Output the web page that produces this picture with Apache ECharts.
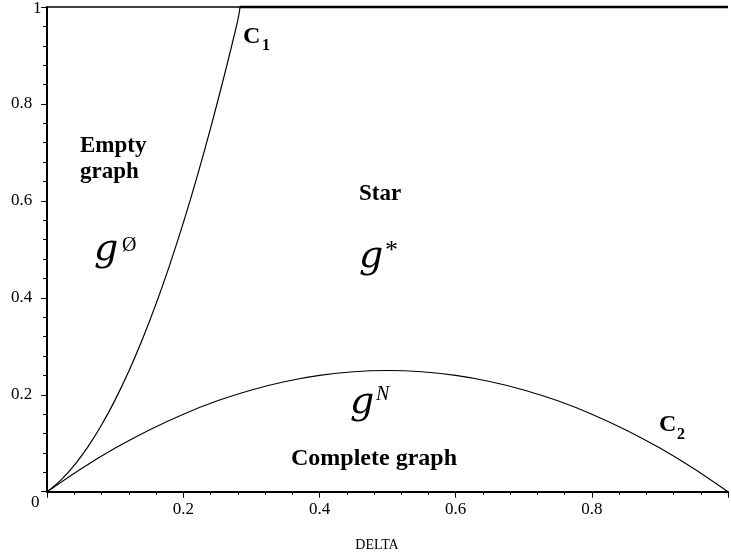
<!DOCTYPE html>
<html>
<head>
<meta charset="utf-8">
<script src="https://cdn.jsdelivr.net/npm/echarts@6/dist/echarts.min.js"></script>
<style>
html,body{margin:0;padding:0;background:#fff;}
#chart{width:731px;height:557px;}
</style>
</head>
<body>
<div id="chart"></div>
<script>
// DELTA values and cost curves
const c1Delta = [0, 0.02, 0.04, 0.06, 0.08, 0.10, 0.12, 0.14, 0.16, 0.18, 0.20, 0.22, 0.24, 0.26, 0.28, 0.2833, 1];
const c1Value = [0, 0.024, 0.055, 0.093, 0.138, 0.19, 0.249, 0.315, 0.388, 0.468, 0.555, 0.649, 0.75, 0.858, 0.973, 1, 1];
const c2Delta = [0, 0.05, 0.10, 0.15, 0.20, 0.25, 0.30, 0.35, 0.40, 0.45, 0.50, 0.55, 0.60, 0.65, 0.70, 0.75, 0.80, 0.85, 0.90, 0.95, 1];
const c2Value = [0, 0.0475, 0.09, 0.1275, 0.16, 0.1875, 0.21, 0.2275, 0.24, 0.2475, 0.25, 0.2475, 0.24, 0.2275, 0.21, 0.1875, 0.16, 0.1275, 0.09, 0.0475, 0];
const topDelta = [0, 1];
const topValue = [1, 1];
const xTicks = [0.2, 0.4, 0.6, 0.8];
const yTicks = [0.2, 0.4, 0.6, 0.8];

const zip = (a, b) => a.map((v, i) => [v, b[i]]);
const c1All = zip(c1Delta, c1Value);
const capIdx = c1Value.indexOf(1);
const c1Curve = c1All.slice(0, capIdx + 1);
const c1Cap = c1All.slice(capIdx);
const serif = "'Liberation Serif','DejaVu Serif',serif";
const gFont = "italic 38px 'DejaVu Serif',serif";

const chart = echarts.init(document.getElementById('chart'), null, {renderer: 'canvas'});
chart.setOption({
  backgroundColor: '#ffffff',
  animation: false,
  grid: {left: 47.2, top: 7, width: 686.6, height: 484.7, containLabel: false},
  xAxis: {
    type: 'value', min: 0, max: 1, interval: 0.2,
    axisLine: {show: true, onZero: false, lineStyle: {color: '#000', width: 2}},
    axisTick: {show: true, inside: false, length: 6, lineStyle: {color: '#000', width: 1}},
    minorTick: {show: true, splitNumber: 5, length: 3, lineStyle: {color: '#000', width: 1}},
    splitLine: {show: false},
    axisLabel: {
      color: '#000', fontFamily: serif, fontSize: 17, margin: 9,
      formatter: v => xTicks.some(t => Math.abs(t - v) < 1e-9) ? String(v) : ''
    }
  },
  yAxis: {
    type: 'value', min: 0, max: 1, interval: 0.2,
    axisLine: {show: true, onZero: false, lineStyle: {color: '#000', width: 2}},
    axisTick: {show: true, inside: false, length: 6, lineStyle: {color: '#000', width: 1}},
    minorTick: {show: true, splitNumber: 5, length: 4, lineStyle: {color: '#000', width: 1}},
    splitLine: {show: false},
    axisLabel: {
      color: '#000', fontFamily: serif, fontSize: 17, margin: 15,
      formatter: v => yTicks.some(t => Math.abs(t - v) < 1e-9) ? String(v) : ''
    }
  },
  series: [
    {type: 'line', name: 'top', data: zip(topDelta, topValue), symbol: 'none', clip: false,
     lineStyle: {color: '#000', width: 1.3}},
    {type: 'line', name: 'C1', data: c1Curve, symbol: 'none', clip: false, smooth: 0.3,
     lineStyle: {color: '#000', width: 1.2}},
    {type: 'line', name: 'C1 cap', data: c1Cap, symbol: 'none', clip: false,
     lineStyle: {color: '#000', width: 2.4}},
    {type: 'line', name: 'C2', data: zip(c2Delta, c2Value), symbol: 'none', clip: false, smooth: 0.3,
     lineStyle: {color: '#000', width: 1.1}}
  ],
  graphic: [
    {type: 'text', left: 31, top: 494, style: {text: '0', font: "17px " + serif, fill: '#000'}},
    {type: 'text', x: 33, y: 9, style: {text: '1', font: "17px " + serif, fill: '#000', verticalAlign: 'middle'}},
    {type: 'text', x: 377, y: 545, style: {text: 'DELTA', font: "14px " + serif, fill: '#000', align: 'center', verticalAlign: 'middle'}},
    {type: 'text', x: 243, y: 37, style: {text: 'C', font: "bold 24px " + serif, fill: '#000', verticalAlign: 'middle'}},
    {type: 'text', x: 262, y: 46, style: {text: '1', font: "bold 16px " + serif, fill: '#000', verticalAlign: 'middle'}},
    {type: 'text', x: 659, y: 425, style: {text: 'C', font: "bold 24px " + serif, fill: '#000', verticalAlign: 'middle'}},
    {type: 'text', x: 677, y: 435, style: {text: '2', font: "bold 16px " + serif, fill: '#000', verticalAlign: 'middle'}},
    {type: 'text', x: 80, y: 146, style: {text: 'Empty', font: "bold 23px " + serif, fill: '#000', verticalAlign: 'middle'}},
    {type: 'text', x: 80, y: 172, style: {text: 'graph', font: "bold 23px " + serif, fill: '#000', verticalAlign: 'middle'}},
    {type: 'text', x: 359, y: 194, style: {text: 'Star', font: "bold 23px " + serif, fill: '#000', verticalAlign: 'middle'}},
    {type: 'text', x: 291, y: 459, style: {text: 'Complete graph', font: "bold 24px " + serif, fill: '#000', verticalAlign: 'middle'}},
    {type: 'text', x: 94, y: 250, style: {text: 'g', font: gFont, fill: '#000', verticalAlign: 'middle'}},
    {type: 'text', x: 122, y: 246, style: {text: '\u00D8', font: "20px " + serif, fill: '#000', verticalAlign: 'middle'}},
    {type: 'text', x: 359, y: 257, style: {text: 'g', font: gFont, fill: '#000', verticalAlign: 'middle'}},
    {type: 'text', x: 385, y: 251, style: {text: '*', font: "26px " + serif, fill: '#000', verticalAlign: 'middle'}},
    {type: 'text', x: 350, y: 403, style: {text: 'g', font: gFont, fill: '#000', verticalAlign: 'middle'}},
    {type: 'text', x: 376, y: 395, style: {text: 'N', font: "italic 20px " + serif, fill: '#000', verticalAlign: 'middle'}}
  ]
});
</script>
</body>
</html>
